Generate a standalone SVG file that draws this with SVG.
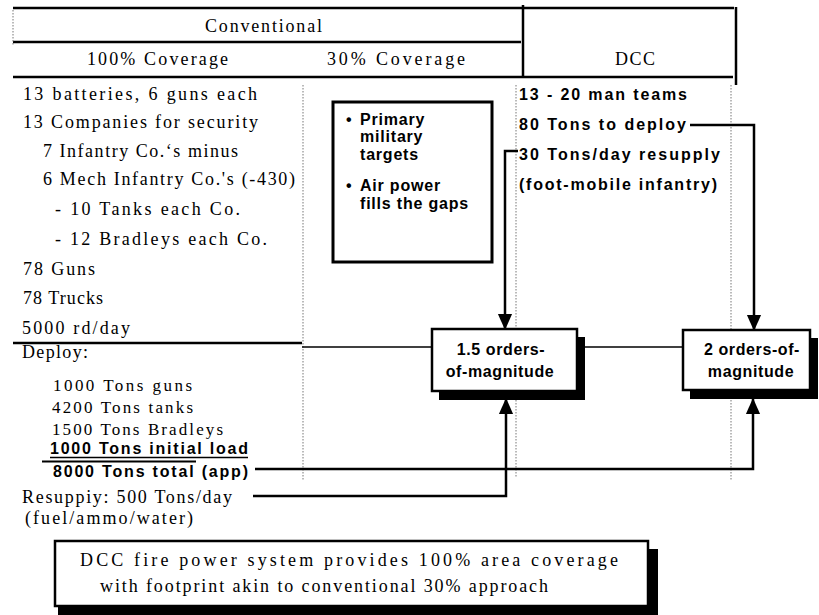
<svg xmlns="http://www.w3.org/2000/svg" width="819" height="615" viewBox="0 0 819 615">
<defs>
<style>
.serif{font-family:'Liberation Serif','DejaVu Serif','Times New Roman',serif;font-size:18px;fill:#000}
.sm{font-size:17px}
.bold{font-family:'Liberation Sans','DejaVu Sans',Arial,sans-serif;font-weight:bold;font-size:16px;fill:#000}
.rule{stroke:#000;stroke-width:2.5;fill:none}
.dot{stroke:#777;stroke-width:1;stroke-dasharray:1.5 1.5;fill:none}
.conn{stroke:#000;stroke-width:2.5;fill:none;stroke-linejoin:miter}
.thin{stroke:#000;stroke-width:1.3;fill:none}
.box{fill:#fff;stroke:#000;stroke-width:2.5}
.shadow{fill:#000}
</style>
<marker id="arrow" markerUnits="userSpaceOnUse" markerWidth="16" markerHeight="18" refX="17" refY="8" orient="auto" viewBox="0 0 18 16">
<path d="M0,0 L18,8 L0,16 z" fill="#000"/>
</marker>
</defs>
<rect width="819" height="615" fill="#fff"/>

<g id="header">
<line class="rule" x1="13" y1="8" x2="734" y2="8"/>
<line class="rule" x1="13" y1="42" x2="521" y2="42"/>
<line class="rule" x1="13" y1="77" x2="733" y2="77"/>
<line class="rule" x1="523" y1="5" x2="523" y2="76"/>
<line class="rule" x1="736" y1="7" x2="736" y2="85"/>
<line class="dot" x1="13" y1="10" x2="13" y2="46"/>
<text class="serif" font-family="Liberation Serif, DejaVu Serif, serif" x="205" y="32" textLength="117" lengthAdjust="spacing">Conventional</text>
<text class="serif" font-family="Liberation Serif, DejaVu Serif, serif" x="87" y="65" textLength="141" lengthAdjust="spacing">100% Coverage</text>
<text class="serif" font-family="Liberation Serif, DejaVu Serif, serif" x="327" y="65" textLength="138" lengthAdjust="spacing">30% Coverage</text>
<text class="serif" font-family="Liberation Serif, DejaVu Serif, serif" x="615" y="65" textLength="40" lengthAdjust="spacing">DCC</text>
</g>

<g id="column-dividers">
<line class="dot" x1="303" y1="85" x2="303" y2="480"/>
<line class="dot" x1="516" y1="85" x2="516" y2="478"/>
<line class="dot" x1="731" y1="85" x2="731" y2="480"/>
</g>

<g id="conventional-list">
<text class="serif" x="23" y="100" textLength="234" lengthAdjust="spacing">13 batteries, 6 guns each</text>
<text class="serif" x="23" y="128" textLength="235" lengthAdjust="spacing">13 Companies for security</text>
<text class="serif" x="43" y="157" textLength="195" lengthAdjust="spacing">7 Infantry Co.‘s minus</text>
<text class="serif" x="43" y="185" textLength="252" lengthAdjust="spacing">6 Mech Infantry Co.'s (-430)</text>
<text class="serif" x="55" y="215" textLength="185" lengthAdjust="spacing">- 10 Tanks each Co.</text>
<text class="serif" x="55" y="245" textLength="212" lengthAdjust="spacing">- 12 Bradleys each Co.</text>
<text class="serif" x="23" y="275" textLength="72" lengthAdjust="spacing">78 Guns</text>
<text class="serif" x="23" y="304" textLength="80" lengthAdjust="spacing">78 Trucks</text>
<text class="serif" x="22" y="334" textLength="108" lengthAdjust="spacing">5000 rd/day</text>
<line class="rule" x1="13" y1="343" x2="302" y2="343"/>
</g>

<g id="primary-box">
<rect x="333" y="102" width="159" height="160" fill="#fff" stroke="#000" stroke-width="3"/>
<text class="bold" x="346" y="125">•</text>
<text class="bold" x="360" y="125" letter-spacing="0.8">Primary</text>
<text class="bold" x="360" y="142" letter-spacing="0.8">military</text>
<text class="bold" x="360" y="160" letter-spacing="0.8">targets</text>
<text class="bold" x="346" y="191">•</text>
<text class="bold" x="360" y="191" letter-spacing="0.8">Air power</text>
<text class="bold" x="360" y="209" letter-spacing="0.8">fills the gaps</text>
</g>

<g id="dcc-list">
<text class="bold" x="519" y="100" textLength="168" lengthAdjust="spacing">13 - 20 man teams</text>
<text class="bold" x="519" y="130" textLength="167" lengthAdjust="spacing">80 Tons to deploy</text>
<text class="bold" x="519" y="160" textLength="201" lengthAdjust="spacing">30 Tons/day resupply</text>
<text class="bold" x="519" y="190" textLength="198" lengthAdjust="spacing">(foot-mobile infantry)</text>
</g>

<g id="box-1-5">
<rect class="shadow" x="439" y="337" width="146" height="63"/>
<rect class="box" x="432" y="329" width="145" height="62"/>
<text class="bold" x="501" y="355" text-anchor="middle" letter-spacing="0.6">1.5 orders-</text>
<text class="bold" x="500" y="377" text-anchor="middle" letter-spacing="0.6">of-magnitude</text>
</g>

<g id="box-2">
<rect class="shadow" x="690" y="338" width="128" height="61"/>
<rect class="box" x="683" y="330" width="127" height="60"/>
<text class="bold" x="752" y="355" text-anchor="middle" letter-spacing="0.6">2 orders-of-</text>
<text class="bold" x="751" y="377" text-anchor="middle" letter-spacing="0.6">magnitude</text>
</g>

<g id="deploy-list">
<text class="serif" x="22" y="358" textLength="66" lengthAdjust="spacing">Deploy:</text>
<text class="serif sm" x="53" y="391" textLength="139" lengthAdjust="spacing">1000 Tons guns</text>
<text class="serif sm" x="52" y="413" textLength="141" lengthAdjust="spacing">4200 Tons tanks</text>
<text class="serif sm" x="52" y="435" textLength="171" lengthAdjust="spacing">1500 Tons Bradleys</text>
<text class="bold" x="50" y="454" font-size="17" textLength="198" lengthAdjust="spacing">1000 Tons initial load</text>
<line x1="50" y1="457.5" x2="248" y2="457.5" stroke="#000" stroke-width="1.5"/>
<line x1="42" y1="461.5" x2="196" y2="461.5" stroke="#000" stroke-width="2"/>
<text class="bold" x="53" y="477" font-size="17" textLength="195" lengthAdjust="spacing">8000 Tons total (app)</text>
<text class="serif" x="22" y="503" textLength="210" lengthAdjust="spacing">Resuppiy: 500 Tons/day</text>
<text class="serif" x="25" y="524" textLength="168" lengthAdjust="spacing">(fuel/ammo/water)</text>
</g>

<g id="summary-box">
<rect class="shadow" x="58" y="549" width="600" height="66"/>
<rect class="box" x="55" y="541" width="593" height="65"/>
<text class="serif" x="80" y="566" textLength="538" lengthAdjust="spacing">DCC fire power system provides 100% area coverage</text>
<text class="serif" x="100" y="592" textLength="448" lengthAdjust="spacing">with footprint akin to conventional 30% approach</text>
</g>

<g id="connectors">
<line class="thin" x1="302" y1="347" x2="432" y2="347"/>
<line class="thin" x1="577" y1="347" x2="683" y2="347"/>
<polyline class="conn" points="518,151 505,151 505,329" marker-end="url(#arrow)"/>
<polyline class="conn" points="690,125 754,125 754,330" marker-end="url(#arrow)"/>
<polyline class="conn" points="253,496 506,496 506,399" marker-end="url(#arrow)"/>
<polyline class="conn" points="255,469 753,469 753,399" marker-end="url(#arrow)"/>
</g>
</svg>
